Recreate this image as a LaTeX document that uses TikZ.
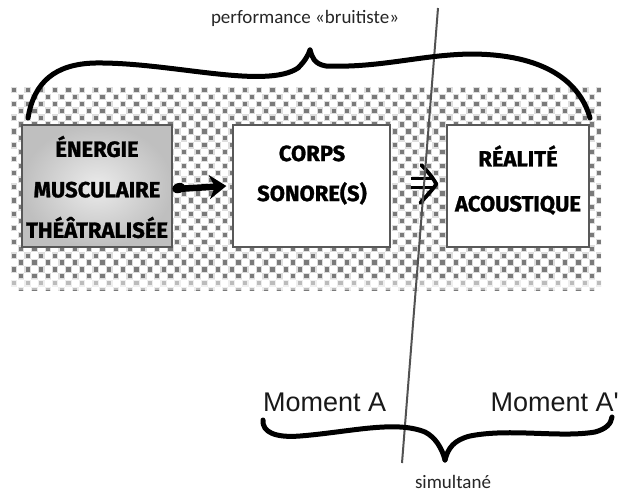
\documentclass[tikz,border=0pt]{standalone}
\usepackage{fontspec}
\setmainfont{Carlito}
\newfontfamily\momfont{Liberation Sans}
\newfontfamily\boxfont{Fira Sans}[BoldFeatures={FakeBold=1.2}]
\usetikzlibrary{arrows.meta}
\definecolor{dotc}{gray}{0.48}
\definecolor{haloc}{gray}{0.87}
\definecolor{boxline}{gray}{0.35}
\tikzset{
  box/.style={draw=boxline, line width=1.3pt, minimum width=#1, minimum height=122pt, inner sep=0pt},
  boxtxt/.style={font=\boxfont\bfseries\fontsize{22}{40.5}\selectfont, align=center, text=black},
  brace/.style={line width=5pt, line cap=round, line join=round, black},
  small/.style={font=\fontsize{19}{22}\selectfont, inner sep=0pt, text=black!85},
  moment/.style={font=\momfont\fontsize{27}{30}\selectfont, inner sep=0pt, text=black!90},
}
\begin{document}
\begin{tikzpicture}[x=1pt,y=-1pt]
\useasboundingbox (0,0) rectangle (620,496);
\fill[white] (0,0) rectangle (620,496);
% checkered band
\begin{scope}
\clip (11,86) rectangle (601,290);
\foreach \r in {0,...,29}{
  \foreach \c in {0,...,43}{
    \pgfmathsetmacro\xx{14+13.6*\c+6.8*mod(\r,2)}
    \pgfmathsetmacro\yy{90+6.9*\r}
    \fill[haloc] (\xx-3.3,\yy-3.3) rectangle ++(6.6,6.6);
    \fill[dotc] (\xx-2.1,\yy-2.1) rectangle ++(4.2,4.2);
  }
}
\fill[white, opacity=0.5] (11,279) rectangle (601,290);
\end{scope}
% boxes
\node[box=150pt, inner color=gray!16, outer color=gray!50] (b1) at (97,186) {};
\node[box=157pt, fill=white] (b2) at (311.5,186) {};
\node[box=142pt, fill=white] (b3) at (518,186) {};
\node[boxtxt] (t1) at (97,187) {ÉNERGIE\\MUSCULAIRE\\THÉÂTRALISÉE};
\node[boxtxt, font=\boxfont\bfseries\fontsize{22}{40}\selectfont] (t2) at (312,175) {CORPS\\SONORE(S)};
\node[boxtxt, font=\boxfont\bfseries\fontsize{22}{45}\selectfont] (t3) at (518,180) {RÉALITÉ\\ACOUSTIQUE};
% arrow 1
\fill[black, rotate around={20:([xshift=5pt,yshift=-4pt]b1.east)}] ([xshift=5pt,yshift=-4pt]b1.east) ellipse (6.5pt and 5pt);
\draw[line width=6.5pt, -{Stealth[length=17pt,width=24pt]}] ([xshift=4pt,yshift=-3pt]b1.east) -- ([xshift=-6pt,yshift=0pt]b2.west);
% arrow 2 (double)
\draw[line width=3.2pt, double=white, double distance=6.5pt, shorten <=20pt, shorten >=13pt] ([yshift=3pt]b2.east) -- ([yshift=3pt]b3.west);
\draw[line width=3.8pt, line cap=round, line join=round] ([xshift=-26pt,yshift=-17pt]b3.west) .. controls ([xshift=-20pt,yshift=-10pt]b3.west) and ([xshift=-14pt,yshift=-4pt]b3.west) .. ([xshift=-10pt,yshift=2pt]b3.west)
  .. controls ([xshift=-14pt,yshift=9pt]b3.west) and ([xshift=-19pt,yshift=15pt]b3.west) .. ([xshift=-25pt,yshift=21pt]b3.west);
% vertical line
\coordinate (ltop) at (438,8);
\coordinate (lbot) at (402,463);
\draw[line width=2pt, black!68] (ltop) -- (lbot);
% top brace
\coordinate (bt) at (310,50);
\draw[brace] (28,118) .. controls (34,82) and (55,64) .. (95,63)
  .. controls (170,62) and (265,90) .. (298,68) .. controls (304,62) and (308,56) .. (bt);
\draw[brace] (bt) .. controls (312,57) and (314,64) .. (326,66)
  .. controls (380,68) and (420,55) .. (470,54) .. controls (545,54) and (580,82) .. (590,118);
\node[small] (perf) at (305,18) {performance «bruitiste»};
% bottom brace
\coordinate (bb) at (445,460);
\draw[brace] (263,420) .. controls (262,432) and (275,438) .. (300,436)
  .. controls (350,432) and (395,420) .. (425,432) .. controls (435,437) and (442,448) .. (bb);
\draw[brace] (bb) .. controls (448,448) and (454,440) .. (470,436)
  .. controls (510,428) and (560,438) .. (595,432) .. controls (606,429) and (611,424) .. (612,417);
\node[moment, anchor=west] (ma) at (263,402) {Moment A};
\node[moment, anchor=east] (mb) at (619,402) {Moment A'};
\node[small] (sim) at (453,482) {simultané};
\end{tikzpicture}
\end{document}
